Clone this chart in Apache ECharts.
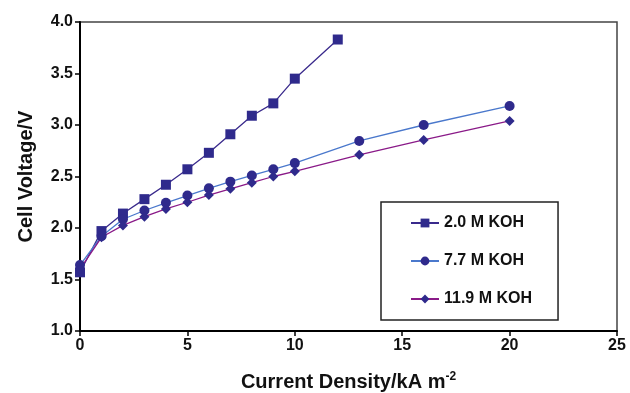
<!DOCTYPE html>
<html>
<head>
<meta charset="utf-8">
<script src="https://cdn.jsdelivr.net/npm/echarts@6/dist/echarts.min.js"></script>
<style>html,body{margin:0;padding:0;background:#fff}#c{width:630px;height:393px}</style>
</head>
<body>
<div id="c"></div>
<script>
const seriesNames = ['2.0 M KOH', '7.7 M KOH', '11.9 M KOH'];
const x20 = [0, 1, 2, 3, 4, 5, 6, 7, 8, 9, 10, 12];
const y20 = [1.57, 1.97, 2.14, 2.28, 2.42, 2.57, 2.73, 2.91, 3.09, 3.21, 3.45, 3.83];
const x77 = [0, 1, 2, 3, 4, 5, 6, 7, 8, 9, 10, 13, 16, 20];
const y77 = [1.64, 1.92, 2.085, 2.17, 2.245, 2.315, 2.385, 2.45, 2.51, 2.57, 2.63, 2.845, 3.0, 3.185];
const x119 = [0, 1, 2, 3, 4, 5, 6, 7, 8, 9, 10, 13, 16, 20];
const y119 = [1.60, 1.91, 2.025, 2.11, 2.185, 2.25, 2.32, 2.38, 2.44, 2.50, 2.55, 2.71, 2.855, 3.04];

const zip = (xs, ys) => xs.map((v, i) => [v, ys[i]]);
const markerColor = '#2f2a8c';
const font = 'Liberation Sans, Arial, sans-serif';

const chart = echarts.init(document.getElementById('c'));
chart.setOption({
  animation: false,
  backgroundColor: '#fff',
  grid: { left: 80, right: 13, top: 22, bottom: 62, show: true, borderColor: '#444', borderWidth: 1.5,
    containLabel: false, outerBoundsMode: 'none' },
  xAxis: {
    type: 'value', min: 0, max: 25, interval: 5,
    name: 'Current Density/kA m{sup|-2}',
    nameLocation: 'middle', nameGap: 40,
    nameTextStyle: { fontFamily: font, fontWeight: 'bold', fontSize: 20, color: '#111',
      rich: { sup: { fontFamily: font, fontWeight: 'bold', fontSize: 12, verticalAlign: 'top', padding: [0,0,10,0], color: '#111' } } },
    axisLine: { lineStyle: { color: '#000', width: 2 } },
    axisTick: { show: true, length: 5, lineStyle: { color: '#000', width: 1.5 } },
    axisLabel: { fontFamily: font, fontWeight: 'bold', fontSize: 16, color: '#111', margin: 7 },
    splitLine: { show: false }
  },
  yAxis: {
    type: 'value', min: 1, max: 4, interval: 0.5,
    name: 'Cell Voltage/V',
    nameLocation: 'middle', nameGap: 44,
    nameTextStyle: { fontFamily: font, fontWeight: 'bold', fontSize: 20, color: '#111' },
    axisLine: { show: true, lineStyle: { color: '#000', width: 2 } },
    axisTick: { show: true, length: 5, lineStyle: { color: '#000', width: 1.5 } },
    axisLabel: { fontFamily: font, fontWeight: 'bold', fontSize: 16, color: '#111', margin: 7,
      formatter: v => v.toFixed(1) },
    splitLine: { show: false }
  },
  legend: {
    orient: 'vertical', left: 381, top: 202,
    padding: [13, 26, 13, 29],
    itemGap: 22, itemWidth: 28, itemHeight: 11,
    borderColor: '#222', borderWidth: 1.5,
    textStyle: { fontFamily: font, fontWeight: 'bold', fontSize: 16, color: '#111' },
    data: seriesNames
  },
  series: [
    { name: seriesNames[0], type: 'line', data: zip(x20, y20), symbol: 'rect', symbolSize: 10,
      itemStyle: { color: markerColor }, lineStyle: { color: '#3a2a8c', width: 1.3 } },
    { name: seriesNames[1], type: 'line', data: zip(x77, y77), symbol: 'circle', symbolSize: 10,
      itemStyle: { color: markerColor }, lineStyle: { color: '#4a78cc', width: 1.3 } },
    { name: seriesNames[2], type: 'line', data: zip(x119, y119), symbol: 'diamond', symbolSize: 10,
      itemStyle: { color: markerColor }, lineStyle: { color: '#8a1a88', width: 1.3 } }
  ]
});
</script>
</body>
</html>
